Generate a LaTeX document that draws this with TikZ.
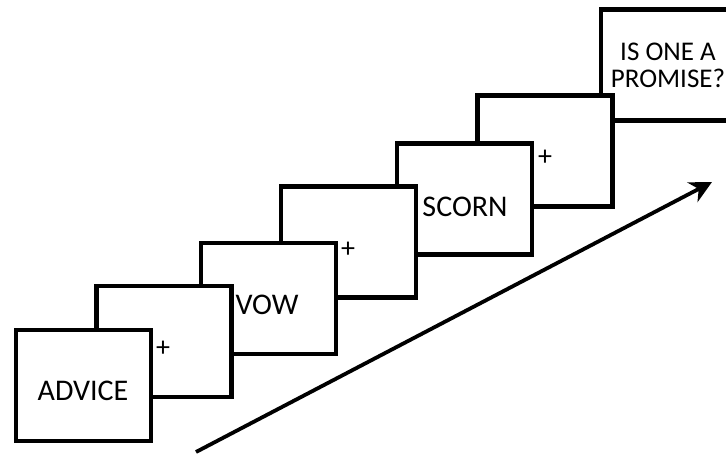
\documentclass[tikz,border=0pt]{standalone}
\usepackage{fontspec}
\setmainfont{Carlito}
\usetikzlibrary{arrows.meta}
\tikzset{
  frame/.style={draw=black, fill=white, line width=4.2pt, inner sep=0pt,
    minimum width=135pt, minimum height=111pt},
  word/.style={font=\fontsize{30}{32}\selectfont, inner sep=0pt},
  query/.style={font=\fontsize{27}{27}\selectfont, inner sep=0pt, align=center},
  cross/.style={font=\fontsize{28}{30}\selectfont, inner sep=0pt},
  trend/.style={line width=3.8pt, -{Stealth[length=22pt, width=22pt, inset=7pt]}}
}
\begin{document}
\begin{tikzpicture}[x=1pt, y=-1pt]
  \useasboundingbox (0,0) rectangle (726,455);
  \clip (0,0) rectangle (726,455);
  % screens, back to front
  \node[frame] (b7) at (668.5,65) {};
  \node[frame] (b6) at (545,151) {};
  \node[frame] (b5) at (464.5,199) {};
  \node[frame] (b4) at (348.5,242) {};
  \node[frame] (b3) at (268.5,298.5) {};
  \node[frame] (b2) at (164,341.5) {};
  \node[frame] (b1) at (83.5,385.5) {};
  % screen contents
  \node[word] (t1) at (83,391) {ADVICE};
  \node[word] (t3) at (267,305) {VOW};
  \node[word] (t5) at (465,207) {SCORN};
  \node[query] (t7) at (668,65) {IS ONE A\\PROMISE?};
  \node[cross] (p2) at (163,349) {+};
  \node[cross] (p4) at (348,250) {+};
  \node[cross] (p6) at (545,158) {+};
  % time arrow
  \coordinate (ts) at (196,452);
  \coordinate (te) at (712,182);
  \draw[trend] (ts) -- (te);
\end{tikzpicture}
\end{document}
